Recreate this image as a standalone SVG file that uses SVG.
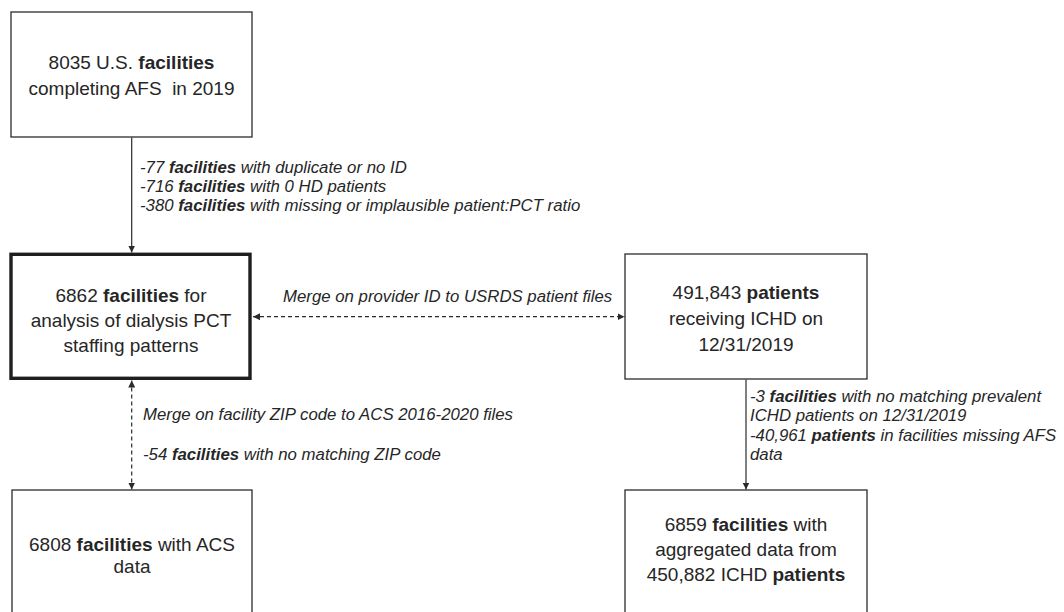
<svg xmlns="http://www.w3.org/2000/svg" width="1064" height="612" viewBox="0 0 1064 612">
<defs>
<style>
.box{fill:#fff;stroke:#2b2b2b;stroke-width:1.3}
.thick{fill:#fff;stroke:#1e1e1e;stroke-width:3.4}
.t{font-family:"Liberation Sans",Arial,sans-serif;font-size:19px;fill:#262626;text-anchor:middle}
.l{font-family:"Liberation Sans",Arial,sans-serif;font-size:16.8px;font-style:italic;fill:#262626}
.b{font-weight:bold}
.line{stroke:#2b2b2b;stroke-width:1.2;fill:none}
.dash{stroke:#2b2b2b;stroke-width:1.2;fill:none;stroke-dasharray:4 3}
</style>
<marker id="ah" viewBox="0 0 10 10" refX="10" refY="5" markerWidth="7" markerHeight="7" markerUnits="userSpaceOnUse" orient="auto-start-reverse">
<path d="M0,0 L10,5 L0,10 z" fill="#2b2b2b"/>
</marker>
</defs>
<rect width="1064" height="612" fill="#fff"/>
<g id="connectors">
<line class="line" x1="131.7" y1="137.5" x2="131.7" y2="252.5" marker-end="url(#ah)"/>
<line class="dash" x1="253" y1="316.7" x2="624.5" y2="316.7" marker-start="url(#ah)" marker-end="url(#ah)"/>
<line class="dash" x1="131.7" y1="380.5" x2="131.7" y2="489.5" marker-start="url(#ah)" marker-end="url(#ah)"/>
<line class="line" x1="746" y1="379.5" x2="746" y2="489.5" marker-end="url(#ah)"/>
</g>
<g id="node-afs">
<rect class="box" x="11" y="12" width="241" height="125"/>
<text class="t" x="131.5" y="69">8035 U.S. <tspan class="b">facilities</tspan></text>
<text class="t" x="131.5" y="95" xml:space="preserve">completing AFS  in 2019</text>
</g>
<g id="label-exclusions">
<text class="l" x="140" y="173">-77 <tspan class="b">facilities</tspan> with duplicate or no ID</text>
<text class="l" x="140" y="192">-716 <tspan class="b">facilities</tspan> with 0 HD patients</text>
<text class="l" x="140" y="211">-380 <tspan class="b">facilities</tspan> with missing or implausible patient:PCT ratio</text>
</g>
<g id="node-analysis">
<rect class="thick" x="11" y="254.3" width="239" height="124"/>
<text class="t" x="131" y="302">6862 <tspan class="b">facilities</tspan> for</text>
<text class="t" x="131" y="327">analysis of dialysis PCT</text>
<text class="t" x="131" y="352">staffing patterns</text>
</g>
<g id="label-merge-provider">
<text class="l" x="283" y="302">Merge on provider ID to USRDS patient files</text>
</g>
<g id="node-patients">
<rect class="box" x="625" y="254" width="242" height="125"/>
<text class="t" x="746" y="299">491,843 <tspan class="b">patients</tspan></text>
<text class="t" x="746" y="325">receiving ICHD on</text>
<text class="t" x="746" y="351">12/31/2019</text>
</g>
<g id="label-merge-zip">
<text class="l" x="143" y="420">Merge on facility ZIP code to ACS 2016-2020 files</text>
<text class="l" x="143" y="460">-54 <tspan class="b">facilities</tspan> with no matching ZIP code</text>
</g>
<g id="label-patient-exclusions">
<text class="l" x="750" y="402">-3 <tspan class="b">facilities</tspan> with no matching prevalent</text>
<text class="l" x="750" y="421">ICHD patients on 12/31/2019</text>
<text class="l" x="750" y="441">-40,961 <tspan class="b">patients</tspan> in facilities missing AFS</text>
<text class="l" x="750" y="460">data</text>
</g>
<g id="node-acs">
<rect class="box" x="12" y="490" width="240" height="130"/>
<text class="t" x="132" y="551">6808 <tspan class="b">facilities</tspan> with ACS</text>
<text class="t" x="132" y="573">data</text>
</g>
<g id="node-aggregated">
<rect class="box" x="625" y="490" width="242" height="130"/>
<text class="t" x="746" y="531">6859 <tspan class="b">facilities</tspan> with</text>
<text class="t" x="746" y="556">aggregated data from</text>
<text class="t" x="746" y="581">450,882 ICHD <tspan class="b">patients</tspan></text>
</g>
</svg>
